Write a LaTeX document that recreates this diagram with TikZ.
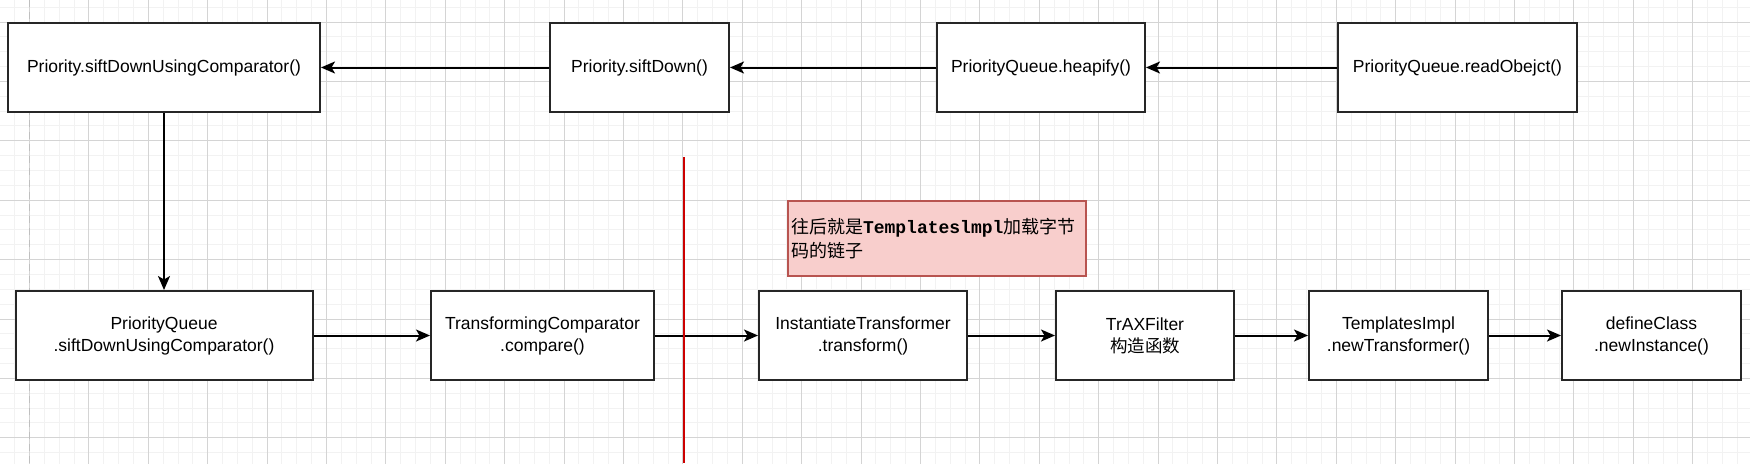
\documentclass[tikz,border=0pt]{standalone}
\usepackage{fontspec}
\usepackage{tikz}
\usetikzlibrary{arrows.meta}
\setmainfont{Liberation Sans}
\newfontfamily\cjk{Noto Sans CJK SC}
\newfontfamily\monofont{Liberation Mono}
\definecolor{noteline}{RGB}{184,84,80}
\definecolor{notefill}{RGB}{248,206,204}
\definecolor{cutred}{RGB}{204,0,0}
\def\boxfont{\fontsize{17.5pt}{22pt}\selectfont}
\tikzset{
  fbox/.style={draw=black!85, line width=2pt, fill=white, align=center,
    minimum height=89pt, inner sep=2pt, font=\boxfont},
  farrow/.style={line width=2pt, -{Stealth[length=14pt,width=12pt,inset=3.5pt]}},
  notebox/.style={draw=noteline, line width=1.5pt, fill=notefill,
    minimum width=298pt, minimum height=75pt, text width=292pt,
    align=left, inner sep=2pt, font=\fontsize{18pt}{24pt}\selectfont},
}

\begin{document}
\begin{tikzpicture}[x=1pt,y=-1pt]
  \useasboundingbox (0,0) rectangle (1750,463);
  % background grid
  \begin{scope}
    \clip (0,0) rectangle (1750,463);
    \fill[white] (0,0) rectangle (1750,463);
    \draw[black!5, line width=1pt, shift={(29.5,22)}, step=14.85pt] (-60,-60) grid (1760,480);
    \draw[black!17, line width=1pt, shift={(29.5,22)}, step=59.4pt] (-60,-60) grid (1760,480);
    \draw[black!25, line width=1.2pt, dash pattern=on 7pt off 5pt] (29.5,0) -- (29.5,463);
  \end{scope}

  % upper row
  \node[fbox, minimum width=312pt] (sdcmp) at (164,67.5) {Priority.siftDownUsingComparator()};
  \node[fbox, minimum width=179pt] (sd) at (639.5,67.5) {Priority.siftDown()};
  \node[fbox, minimum width=208pt] (heap) at (1041,67.5) {PriorityQueue.heapify()};
  \node[fbox, minimum width=239pt] (read) at (1457.5,67.5) {PriorityQueue.readObejct()};

  % lower row
  \node[fbox, minimum width=297pt] (pq) at (164,335.5) {PriorityQueue\\.siftDownUsingComparator()};
  \node[fbox, minimum width=223pt] (tc) at (542.5,335.5) {TransformingComparator\\.compare()};
  \node[fbox, minimum width=208pt] (it) at (863,335.5) {InstantiateTransformer\\.transform()};
  \node[fbox, minimum width=178pt] (trax) at (1145,335.5) {TrAXFilter\\{\cjk 构造函数}};
  \node[fbox, minimum width=179pt] (ti) at (1398.5,335.5) {TemplatesImpl\\.newTransformer()};
  \node[fbox, minimum width=179pt] (dc) at (1651.5,335.5) {defineClass\\.newInstance()};

  % note
  \node[notebox] (note) at (937,238.5)
    {{\cjk 往后就是}{\monofont\bfseries Templateslmpl}{\cjk 加载字节}\\{\cjk 码的链子}};

  % connectors
  \draw[farrow] (read) -- (heap);
  \draw[farrow] (heap) -- (sd);
  \draw[farrow] (sd) -- (sdcmp);
  \draw[farrow] (sdcmp) -- (pq);
  \draw[farrow] (pq) -- (tc);
  \draw[farrow] (tc) -- (it);
  \draw[farrow] (it) -- (trax);
  \draw[farrow] (trax) -- (ti);
  \draw[farrow] (ti) -- (dc);

  % red divider
  \coordinate (cuttop) at (684,157);
  \coordinate (cutbot) at (684,463);
  \draw[cutred, line width=1.5pt] (cuttop) -- (cutbot);
\end{tikzpicture}
\end{document}
